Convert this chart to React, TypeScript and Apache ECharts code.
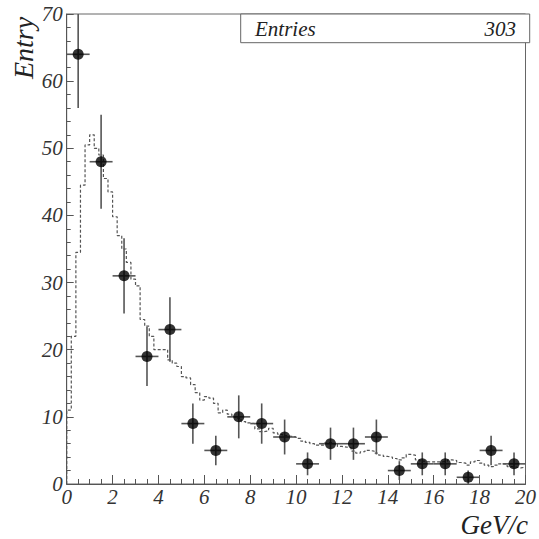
import React, { useEffect, useRef } from "react";
import * as echarts from "echarts";

// Data points (bin centres, GeV/c), counts and vertical errors
const dataX = [0.5, 1.5, 2.5, 3.5, 4.5, 5.5, 6.5, 7.5, 8.5, 9.5, 10.5, 11.5, 12.5, 13.5, 14.5, 15.5, 16.5, 17.5, 18.5, 19.5];
const dataY = [64, 48, 31, 19, 23, 9, 5, 10, 9, 7, 3, 6, 6, 7, 2, 3, 3, 1, 5, 3];
const dataErr = [8, 7, 5.6, 4.4, 4.8, 3, 2.2, 3.2, 3, 2.6, 1.7, 2.4, 2.4, 2.6, 1.4, 1.7, 1.7, 1, 2.2, 1.7];
const binHalfWidth = 0.5;

// Dashed reference histogram: 100 bins of width 0.2, starting at 0
const mcBinWidth = 0.2;
const mcValues = [
  11, 22, 34.5, 44.5, 50.5, 52, 50, 49, 45.5, 43.5,
  39.8, 37, 35, 33, 30.5, 29.5, 24.5, 23.5, 22, 20,
  20, 20, 18.5, 18, 17.5, 16, 15.8, 14.8, 13.6, 12.5,
  13, 12.8, 12, 10.6, 11, 10.4, 10, 9.8, 9.3, 9.1,
  9, 8.2, 7.8, 7.9, 8.3, 7.6, 7.4, 7.2, 7.1, 7,
  6.8, 6.4, 6.2, 6, 5.8, 5.8, 6.1, 6.2, 6, 5.6,
  5.5, 5.4, 4.9, 4.6, 4.8, 5, 4.9, 4.6, 4.3, 4.1,
  4, 3.8, 3.6, 3.9, 4.4, 4.3, 3.6, 3.4, 3.3, 3.3,
  3.3, 3.3, 3.4, 3.6, 3.5, 3.2, 3.1, 2.8, 3.3, 3.5,
  3.1, 2.8, 2.6, 2.8, 3, 3, 2.6, 2.5, 2.4, 2.5,
];

const statsLabel = "Entries";
const statsValue = "303";
const xTitle = "GeV/c";
const yTitle = "Entry";

export default function App() {
  const ref = useRef<HTMLDivElement>(null);

  useEffect(() => {
    if (!ref.current) return;
    const chart = echarts.init(ref.current, undefined, { renderer: "svg" });

    const mcData: number[][] = [[0, 0]];
    mcValues.forEach((v, i) => mcData.push([i * mcBinWidth, v]));
    mcData.push([mcValues.length * mcBinWidth, mcValues[mcValues.length - 1]]);

    const errData = dataX.map((x, i) => [x, dataY[i], dataErr[i]]);
    const pts = dataX.map((x, i) => [x, dataY[i]]);

    const font = "Liberation Serif, DejaVu Serif, serif";
    const axisColor = "#555";

    chart.setOption({
      animation: false,
      backgroundColor: "#fff",
      grid: {
        left: 66.7,
        top: 14,
        right: 9.3,
        bottom: 55,
        show: true,
        borderColor: "#666",
        borderWidth: 1,
        backgroundColor: "transparent",
      },
      xAxis: {
        type: "value",
        min: 0,
        max: 20,
        interval: 2,
        axisLine: { show: true, lineStyle: { color: axisColor, width: 1 } },
        axisTick: { show: true, inside: true, length: 9, lineStyle: { color: axisColor } },
        minorTick: { show: true, splitNumber: 4, length: 5, lineStyle: { color: axisColor } },
        splitLine: { show: false },
        axisLabel: {
          margin: 2,
          fontFamily: font,
          fontStyle: "italic",
          fontSize: 21,
          color: "#333",
        },
      },
      yAxis: {
        type: "value",
        min: 0,
        max: 70,
        interval: 10,
        axisLine: { show: true, lineStyle: { color: axisColor, width: 1 } },
        axisTick: { show: true, inside: true, length: 7, lineStyle: { color: axisColor } },
        minorTick: { show: true, splitNumber: 5, length: 4, lineStyle: { color: axisColor } },
        splitLine: { show: false },
        axisLabel: {
          margin: 4,
          fontFamily: font,
          fontStyle: "italic",
          fontSize: 21,
          color: "#333",
        },
      },
      series: [
        {
          type: "line",
          data: mcData,
          step: "end",
          symbol: "none",
          lineStyle: { color: "#555", width: 1.2, type: [3, 2] },
          z: 1,
        },
        {
          type: "custom",
          data: errData,
          clip: true,
          z: 2,
          renderItem: (params: any, api: any) => {
            const x = api.value(0);
            const y = api.value(1);
            const e = api.value(2);
            const lo = api.coord([x, y - e]);
            const hi = api.coord([x, y + e]);
            const l = api.coord([x - binHalfWidth, y]);
            const r = api.coord([x + binHalfWidth, y]);
            const style = { stroke: "#555", lineWidth: 1.6 };
            return {
              type: "group",
              children: [
                { type: "line", shape: { x1: lo[0], y1: lo[1], x2: hi[0], y2: hi[1] }, style },
                { type: "line", shape: { x1: l[0], y1: l[1], x2: r[0], y2: r[1] }, style },
              ],
            };
          },
        },
        {
          type: "scatter",
          data: pts,
          symbol: "circle",
          symbolSize: 11,
          itemStyle: { color: "#000" },
          z: 3,
        },
      ],
      graphic: [
        {
          type: "rect",
          shape: { x: 240.7, y: 14, width: 289, height: 28.7 },
          style: { fill: "#fff", stroke: "#666", lineWidth: 1 },
          z: 10,
        },
        {
          type: "text",
          x: 255,
          y: 28.5,
          style: {
            text: statsLabel,
            fontFamily: font,
            fontStyle: "italic",
            fontSize: 21,
            fill: "#222",
            verticalAlign: "middle",
          },
          z: 11,
        },
        {
          type: "text",
          x: 516,
          y: 28.5,
          style: {
            text: statsValue,
            fontFamily: font,
            fontStyle: "italic",
            fontSize: 21,
            fill: "#222",
            align: "right",
            verticalAlign: "middle",
          },
          z: 11,
        },
        {
          type: "text",
          x: 528,
          y: 525,
          style: {
            text: xTitle,
            fontFamily: font,
            fontStyle: "italic",
            fontSize: 27,
            fill: "#222",
            align: "right",
            verticalAlign: "middle",
          },
          z: 11,
        },
        {
          type: "text",
          x: 23,
          y: 48,
          rotation: Math.PI / 2,
          style: {
            text: yTitle,
            fontFamily: font,
            fontStyle: "italic",
            fontSize: 28,
            fill: "#222",
            align: "center",
            verticalAlign: "middle",
          },
          z: 11,
        },
      ],
    });

    return () => chart.dispose();
  }, []);

  return (
    <div
      ref={ref}
      style={{ position: "absolute", left: 0, top: 0, width: 539, height: 539 }}
    />
  );
}
